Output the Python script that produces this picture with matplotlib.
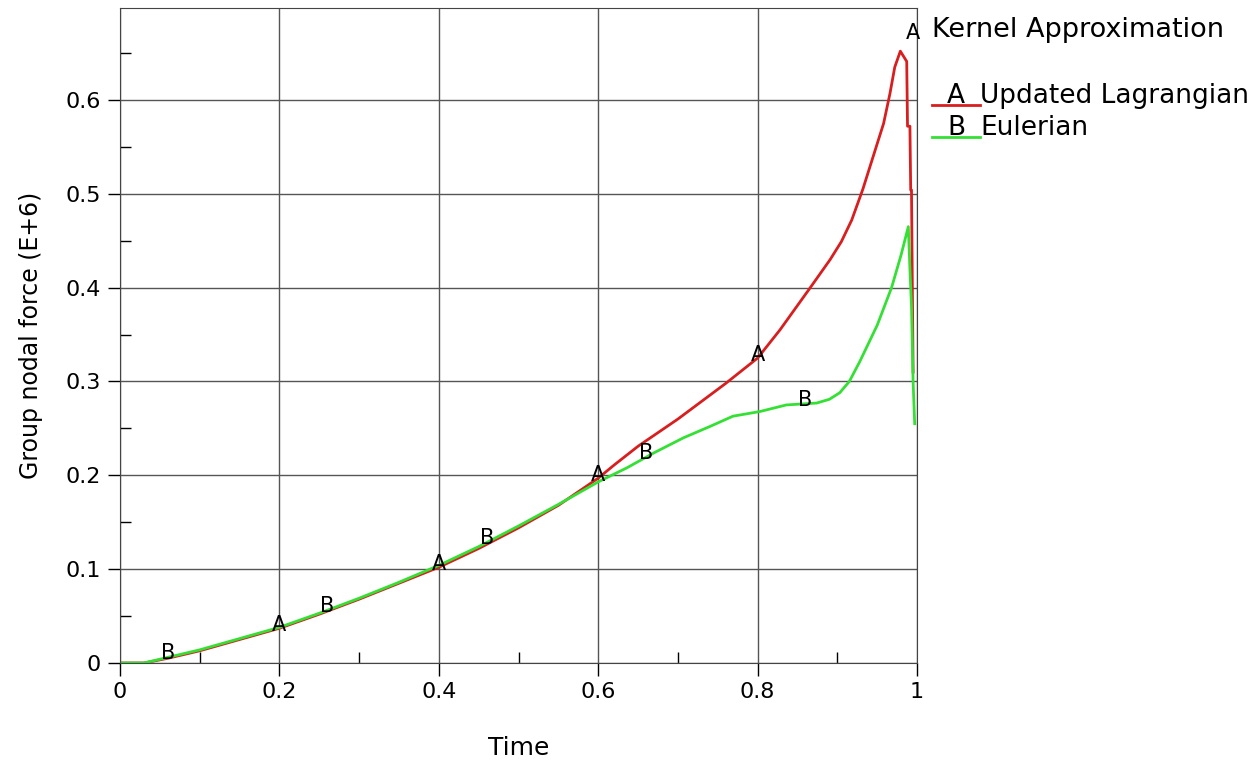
import numpy as np
import matplotlib.pyplot as plt
from matplotlib.lines import Line2D

# -----------------------------
# Data
# -----------------------------
time_a = [0, 0.03, 0.06, 0.1, 0.15, 0.2, 0.25, 0.3, 0.35, 0.4, 0.45, 0.5, 0.55,
          0.6, 0.62, 0.65, 0.7, 0.76, 0.8, 0.828, 0.866, 0.891, 0.905, 0.918,
          0.932, 0.945, 0.958, 0.966, 0.972, 0.979, 0.987, 0.988, 0.991,
          0.992, 0.993, 0.995]
force_a = [0, 0, 0.005, 0.013, 0.025, 0.037, 0.052, 0.068, 0.085, 0.102, 0.122,
           0.144, 0.168, 0.197, 0.211, 0.231, 0.26, 0.298, 0.325, 0.355, 0.4,
           0.43, 0.449, 0.472, 0.505, 0.54, 0.575, 0.607, 0.635, 0.652, 0.641,
           0.572, 0.572, 0.504, 0.504, 0.31]

time_b = [0, 0.03, 0.06, 0.1, 0.15, 0.2, 0.25, 0.3, 0.35, 0.4, 0.45, 0.5, 0.55,
          0.6, 0.636, 0.67, 0.707, 0.74, 0.769, 0.803, 0.836, 0.874, 0.89,
          0.903, 0.915, 0.928, 0.95, 0.968, 0.98, 0.989, 0.991, 0.993, 0.995,
          0.997]
force_b = [0, 0, 0.006, 0.014, 0.026, 0.038, 0.053, 0.069, 0.086, 0.104, 0.124,
           0.146, 0.169, 0.193, 0.208, 0.224, 0.24, 0.252, 0.263, 0.268, 0.275,
           0.277, 0.281, 0.288, 0.3, 0.321, 0.36, 0.40, 0.435, 0.465, 0.42,
           0.38, 0.3, 0.255]

labels_a_x = [0.2, 0.4, 0.6, 0.8, 0.995]
labels_b_x = [0.06, 0.26, 0.46, 0.66, 0.86]

series_names = ["Updated Lagrangian", "Eulerian"]
legend_title = "Kernel Approximation"

red = "#d81e1e"
green = "#35e035"

# -----------------------------
# Plot
# -----------------------------
fig = plt.figure(figsize=(12.58, 7.61), dpi=100)
ax = fig.add_axes([0.0954, 0.1288, 0.6336, 0.8607])

ax.plot(time_a, force_a, color=red, lw=2)
ax.plot(time_b, force_b, color=green, lw=2)

# curve letters (last A sits at the top of the spike)
for x in labels_a_x:
    y = np.interp(x, time_a, force_a)
    if x > 0.99:
        y = 0.668
    ax.annotate("A", (x, y), xytext=(0, 2), textcoords="offset points",
                ha="center", va="center", fontsize=15)
for x in labels_b_x:
    y = np.interp(x, time_b, force_b)
    ax.annotate("B", (x, y), xytext=(0, 3), textcoords="offset points",
                ha="center", va="center", fontsize=15)

ax.set_xlim(0, 1)
ax.set_ylim(0, 0.698)
ax.set_xticks([0, 0.2, 0.4, 0.6, 0.8, 1])
ax.set_xticklabels(["0", "0.2", "0.4", "0.6", "0.8", "1"])
ax.set_yticks([0, 0.1, 0.2, 0.3, 0.4, 0.5, 0.6])
ax.set_yticklabels(["0", "0.1", "0.2", "0.3", "0.4", "0.5", "0.6"])
ax.set_xticks(np.arange(0.1, 1.0, 0.2), minor=True)
ax.set_yticks(np.arange(0.05, 0.7, 0.1), minor=True)
ax.tick_params(which="major", direction="out", length=9, width=1,
               labelsize=16, pad=5)
ax.tick_params(which="minor", direction="in", length=8, width=1)
ax.grid(True, which="major", color="#555555", lw=1)
for s in ax.spines.values():
    s.set_color("#444444")

ax.set_xlabel("Time", fontsize=18, labelpad=24)
ax.set_ylabel("Group nodal force (E+6)", fontsize=17, labelpad=16)

# legend drawn by hand (letters sit on the line)
fig.text(0.741, 0.961, legend_title, fontsize=19.5, va="center", ha="left")
for i, (name, c, letter) in enumerate(zip(series_names, [red, green], ["A", "B"])):
    yl = 0.862 - i * 0.042
    fig.add_artist(Line2D([0.741, 0.779], [yl, yl], color=c, lw=2))
    fig.text(0.760, yl + 0.012, letter, fontsize=19, ha="center", va="center")
    fig.text(0.779, yl + 0.012, name, fontsize=19, ha="left", va="center")

plt.savefig("out.png", dpi=100)
